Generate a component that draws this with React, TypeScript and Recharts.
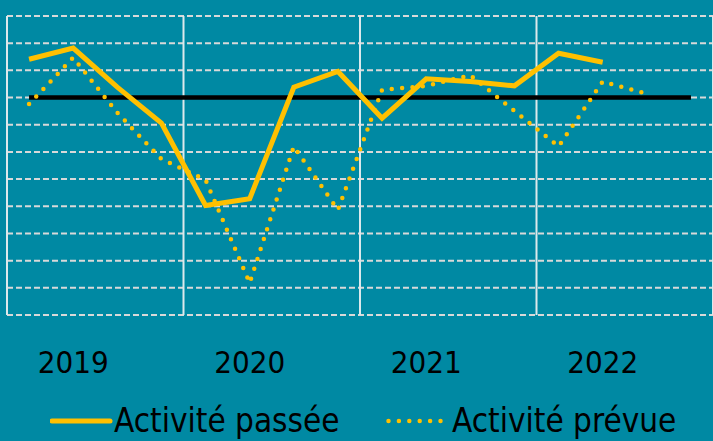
import React from 'react';
import { LineChart, Line, XAxis, YAxis, CartesianGrid, ReferenceLine } from 'recharts';

const quarters = [
  'T1 2019', 'T2 2019', 'T3 2019', 'T4 2019',
  'T1 2020', 'T2 2020', 'T3 2020', 'T4 2020',
  'T1 2021', 'T2 2021', 'T3 2021', 'T4 2021',
  'T1 2022', 'T2 2022', 'T3 2022', 'T4 2022',
];
const years = ['2019', '2020', '2021', '2022'];
const activitePassee = [14.1, 18.2, 3.8, -9.4, -39.7, -37.2, 3.8, 9.6, -7.6, 6.9, 5.9, 4.3, 16.3, 13.0, null, null];
const activitePrevue = [-2.4, 14.7, -5.6, -22.6, -30.3, -68.2, -18.0, -41.3, 2.8, 4.3, 8.2, -4.9, -18.0, 5.9, 1.4, null];
const reference = [0, 0, 0, 0, 0, 0, 0, 0, 0, 0, 0, 0, 0, 0, 0, 0];
const yTicks = [30, 20, 10, 0, -10, -20, -30, -40, -50, -60, -70, -80];

const BG = '#0089a3';
const GOLD = '#ffc000';
const FONT = "'DejaVu Sans Condensed', 'DejaVu Sans', sans-serif";

// one point per quarter, placed in the middle of its slot
const data = quarters.map((q, i) => ({
  x: i + 0.5,
  quarter: q,
  passee: activitePassee[i],
  prevue: activitePrevue[i],
  ref: reference[i],
}));

// year label sits under the second quarter of its year
const yearTicks = years.map((_, i) => i * 4 + 1.5);
const yearBounds = [0, 4, 8, 12, 16];

const LegendItem = ({ dotted, label, width }: { dotted?: boolean; label: string; width: number }) => (
  <div style={{ display: 'flex', alignItems: 'center', width }}>
    <svg width={dotted ? 66 : 64} height={10}>
      {dotted ? (
        <line x1={2.5} y1={5} x2={56} y2={5} stroke={GOLD} strokeWidth={4.5} strokeDasharray="0 10.4" strokeLinecap="round" />
      ) : (
        <line x1={2} y1={5} x2={60} y2={5} stroke={GOLD} strokeWidth={5} strokeLinecap="round" />
      )}
    </svg>
    <span>{label}</span>
  </div>
);

export default function App() {
  return (
    <div style={{ position: 'fixed', left: 0, top: 0, width: 713, height: 441, background: BG, overflow: 'hidden' }}>
      <LineChart width={713} height={441} data={data} margin={{ top: 16, right: 0, left: 7, bottom: 0 }}>
        <CartesianGrid vertical={false} stroke="#d9d9d9" strokeWidth={2} strokeDasharray="6 3" />
        <XAxis
          type="number"
          dataKey="x"
          domain={[0, 16]}
          ticks={yearTicks}
          tickFormatter={(v: number) => years[Math.floor(v / 4)]}
          axisLine={false}
          tickLine={false}
          tickSize={0}
          tickMargin={36}
          height={126}
          tick={{ fill: '#000', fontSize: 31, fontFamily: FONT }}
        />
        <YAxis hide domain={[-80, 30]} ticks={yTicks} />
        {yearBounds.map(b => (
          <ReferenceLine key={b} x={b} stroke="#dce9ec" strokeWidth={2} />
        ))}
        <Line dataKey="ref" stroke="#000" strokeWidth={4.5} dot={false} isAnimationActive={false} />
        <Line dataKey="prevue" stroke={GOLD} strokeWidth={4.5} strokeDasharray="0 10.4" strokeLinecap="round" dot={false} isAnimationActive={false} />
        <Line dataKey="passee" stroke={GOLD} strokeWidth={5} dot={false} isAnimationActive={false} />
      </LineChart>
      <div style={{ position: 'absolute', left: 50, top: 401, display: 'flex', fontFamily: FONT, fontSize: 33, color: '#000' }}>
        <LegendItem label="Activité passée" width={336} />
        <LegendItem dotted label="Activité prévue" width={320} />
      </div>
    </div>
  );
}
